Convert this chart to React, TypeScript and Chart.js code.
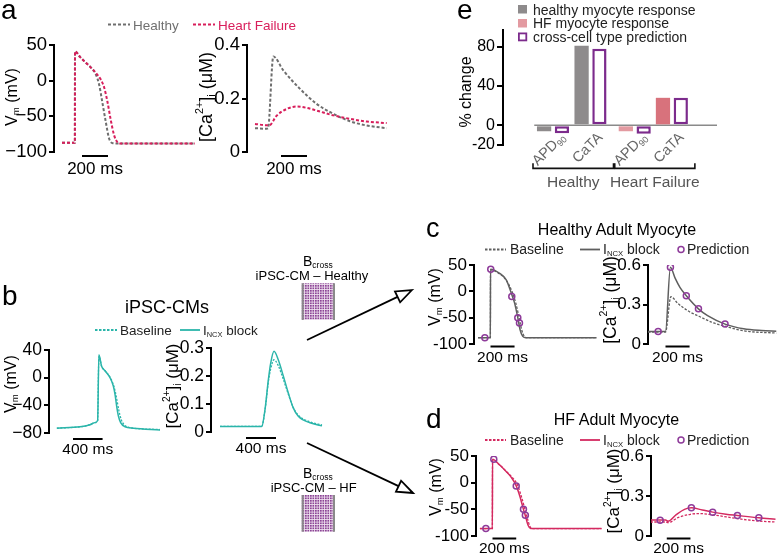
import React, { useEffect, useRef } from 'react';
import { Chart, registerables } from 'chart.js';
Chart.register(...registerables);

const FONT = '"Liberation Sans", Arial, Helvetica, sans-serif';

// ---------------- Panel a : healthy vs heart failure ----------------
const aVmHealthyT = [-100, -1, 0, 40, 90, 130, 160, 185, 210, 237, 262, 288, 310, 923];
const aVmHealthyV = [-87, -87, 41, 33, 24, 17, 9, -5, -30, -58, -81, -87.5, -88, -88];
const aVmHFT = [-100, -1, 0, 40, 90, 130, 165, 200, 225, 250, 275, 300, 325, 345, 923];
const aVmHFV = [-87, -87, 41, 33, 24, 17, 10, 1, -10, -30, -55, -76, -86, -88, -88];
const aCaHealthyT = [-100, -10, 0, 41, 118, 246, 374, 502, 631, 759, 913];
const aCaHealthyV = [0.089, 0.087, 0.088, 0.357, 0.305, 0.236, 0.18, 0.143, 0.115, 0.099, 0.089];
const aCaHFT = [-100, -10, 10, 67, 144, 221, 297, 374, 502, 631, 759, 913];
const aCaHFV = [0.105, 0.1, 0.1, 0.136, 0.161, 0.17, 0.165, 0.155, 0.137, 0.124, 0.114, 0.108];
const aVmTicks = [-100, -50, 0, 50];
const aVmTickLabels = ['\u2212100', '\u221250', '0', '50'];
const aCaTicks = [0, 0.2, 0.4];
const aCaTickLabels = ['0', '0.2', '0.4'];

// ---------------- Panel b : iPSC-CMs ----------------
const bVmBlockT = [-556, -243, -108, -41, -5, 12, 50, 95, 162, 207, 230, 252, 275, 306, 365, 477, 838];
const bVmBlockV = [-73, -71, -68, -65, -62, 33, 16, 10, 0, -12, -24, -41, -55, -65, -71, -73, -75.5];
const bVmBaseT = [-556, -243, -108, -41, -5, 12, 50, 95, 162, 207, 235, 260, 285, 315, 345, 390, 477, 838];
const bVmBaseV = [-73, -71, -68, -65, -62, 31, 16, 10, 1, -10, -21, -35, -49, -61, -67, -71, -73, -75];
const bCaT = [-556, 0, 44, 89, 120, 164, 221, 288, 355, 421, 488, 644, 804];
const bCaBlockV = [0.02, 0.02, 0.08, 0.187, 0.246, 0.288, 0.258, 0.2, 0.139, 0.086, 0.056, 0.033, 0.022];
const bCaBaseV = [0.02, 0.02, 0.078, 0.18, 0.225, 0.258, 0.237, 0.188, 0.135, 0.087, 0.06, 0.036, 0.025];
const bVmTicks = [-80, -40, 0, 40];
const bVmTickLabels = ['\u221280', '\u221240', '0', '40'];
const bCaTicks = [0, 0.1, 0.2, 0.3];
const bCaTickLabels = ['0', '0.1', '0.2', '0.3'];

// ---------------- Panel c : healthy adult myocyte ----------------
const cVmBlockT = [-104, -1, 0, 76, 131, 172, 200, 227, 246, 268, 295, 882];
const cVmBlockV = [-88, -88, 42, 34, 21.7, -3, -22, -50, -73, -85.5, -88, -88];
const cVmBaseT = [-104, -1, 0, 76, 131, 180, 210, 238, 258, 280, 305, 882];
const cVmBaseV = [-88, -88, 41, 33, 21, -1, -22, -50, -72, -85, -88, -88];
const cCaBlockT = [-145, 0, 41, 80, 120, 173, 274, 350, 495, 650, 800, 923];
const cCaBlockV = [0.095, 0.095, 0.583, 0.5, 0.43, 0.366, 0.267, 0.215, 0.151, 0.115, 0.102, 0.097];
const cCaBaseT = [-145, 0, 45, 100, 200, 282, 400, 501, 650, 923];
const cCaBaseV = [0.09, 0.09, 0.36, 0.31, 0.245, 0.209, 0.16, 0.133, 0.1, 0.083];
const cPredVmT = [-47, 2, 177, 227, 241];
const cPredVmV = [-88, 42, -10, -50, -60];
const cPredCaT = [-61, 41, 173, 274, 495];
const cPredCaV = [0.095, 0.583, 0.366, 0.267, 0.151];

// ---------------- Panel d : HF adult myocyte ----------------
const dVmBlockT = [-106, -1, 0, 61, 117, 158, 200, 230, 261, 277, 300, 320, 919];
const dVmBlockV = [-86, -86, 44, 33, 20.5, 10, -6, -25, -50, -62, -80, -86, -86];
const dVmBaseT = [-106, -1, 0, 61, 117, 165, 210, 245, 276, 292, 315, 335, 919];
const dVmBaseV = [-86, -86, 43, 33, 21, 10, -4, -27, -52, -65, -82, -86, -86];
const dCaBlockT = [-139, -10, 10, 80, 150, 208, 300, 388, 500, 597, 778, 919];
const dCaBlockV = [0.12, 0.12, 0.11, 0.16, 0.2, 0.211, 0.195, 0.179, 0.164, 0.154, 0.136, 0.125];
const dCaBaseT = [-139, -10, 10, 100, 200, 280, 400, 600, 778, 919];
const dCaBaseV = [0.105, 0.105, 0.1, 0.14, 0.163, 0.168, 0.157, 0.13, 0.112, 0.105];
const dPredVmT = [-56, 11, 200, 261, 277];
const dPredVmV = [-86, 44, -6.4, -50, -61];
const dPredCaT = [-56, 208, 388, 597, 778];
const dPredCaV = [0.118, 0.211, 0.178, 0.154, 0.136];

const cdVmTicks = [-100, -50, 0, 50];
const cdVmTickLabels = ['-100', '-50', '0', '50'];
const cdCaTicks = [0, 0.3, 0.6];
const cdCaTickLabels = ['0', '0.3', '0.6'];

// ---------------- Panel e : % change bars ----------------
const eCategories = ['APD90', 'CaTA', 'APD90', 'CaTA'];
const eGroups = ['Healthy', 'Heart Failure'];
const eResponse = [-6, 81, -6, 28];
const ePrediction = [-8, 78, -8.5, 28];
const eTicks = [-20, 0, 40, 80];
const eTickLabels = ['-20', '0', '40', '80'];

// ---------------- colours ----------------
const GRAY_A = '#6e6e6e';
const RED_A = '#d81e5b';
const TEAL = '#2bb5aa';
const GRAY_C = '#5f5f5f';
const RED_D = '#d42a60';
const PURPLE = '#8e3b9a';
const BAR_GRAY = '#8e8b8c';
const BAR_PINK_LIGHT = '#e39aa1';
const BAR_PINK = '#d8727c';
const BAR_PURPLE = '#7c2b8c';

const pts = (t: number[], v: number[]) => t.map((x, i) => ({ x, y: v[i] }));

type Series = { t: number[]; v: number[]; color: string; dash?: number[]; width?: number; points?: boolean };
type LineSpec = {
  axisX: number; top: number; bottom: number; right: number; t0Px: number; pxPerMs: number;
  yMin: number; yMax: number; yTicks: number[]; yLabels: string[]; tickFont: number;
  bar: { t0: number; t1: number; label: string; off: number; textOff: number; font: number };
  series: Series[];
};

const W = 64, PT = 14, PB = 30, PR = 4;

const specs: LineSpec[] = [
  {
    axisX: 54, top: 44.5, bottom: 151, right: 196, t0Px: 75, pxPerMs: 0.13,
    yMin: -100, yMax: 50, yTicks: aVmTicks, yLabels: aVmTickLabels, tickFont: 18.5,
    bar: { t0: 54, t1: 254, label: '200 ms', off: 4, textOff: 17, font: 17 },
    series: [
      { t: aVmHFT, v: aVmHFV, color: RED_A, dash: [3, 2], width: 2 },
      { t: aVmHealthyT, v: aVmHealthyV, color: GRAY_A, dash: [3, 2], width: 2 },
    ],
  },
  {
    axisX: 247, top: 44.5, bottom: 151.5, right: 388, t0Px: 268, pxPerMs: 0.13,
    yMin: 0, yMax: 0.4, yTicks: aCaTicks, yLabels: aCaTickLabels, tickFont: 18.5,
    bar: { t0: 100, t1: 300, label: '200 ms', off: 4, textOff: 17, font: 17 },
    series: [
      { t: aCaHFT, v: aCaHFV, color: RED_A, dash: [3, 2], width: 2 },
      { t: aCaHealthyT, v: aCaHealthyV, color: GRAY_A, dash: [3, 2], width: 2 },
    ],
  },
  {
    axisX: 49, top: 349.5, bottom: 432, right: 161, t0Px: 98, pxPerMs: 0.074,
    yMin: -80, yMax: 40, yTicks: bVmTicks, yLabels: bVmTickLabels, tickFont: 17.5,
    bar: { t0: -338, t1: 62, label: '400 ms', off: 6, textOff: 17, font: 15.5 },
    series: [
      { t: bVmBlockT, v: bVmBlockV, color: TEAL, width: 1.5 },
      { t: bVmBaseT, v: bVmBaseV, color: TEAL, dash: [2, 1.5], width: 1.3 },
    ],
  },
  {
    axisX: 211, top: 348.3, bottom: 432.3, right: 323, t0Px: 261.7, pxPerMs: 0.075,
    yMin: 0, yMax: 0.3, yTicks: bCaTicks, yLabels: bCaTickLabels, tickFont: 17.5,
    bar: { t0: -209, t1: 191, label: '400 ms', off: 6, textOff: 17, font: 15.5 },
    series: [
      { t: bCaT, v: bCaBlockV, color: TEAL, width: 1.5 },
      { t: bCaT, v: bCaBaseV, color: TEAL, dash: [2, 1.5], width: 1.3 },
    ],
  },
  {
    axisX: 474, top: 265, bottom: 344.3, right: 599, t0Px: 490.7, pxPerMs: 0.1217,
    yMin: -100, yMax: 50, yTicks: cdVmTicks, yLabels: cdVmTickLabels, tickFont: 17,
    bar: { t0: 0, t1: 200, label: '200 ms', off: 2.5, textOff: 14, font: 15.5 },
    series: [
      { t: cPredVmT, v: cPredVmV, color: PURPLE, points: true },
      { t: cVmBlockT, v: cVmBlockV, color: GRAY_C, width: 1.5 },
      { t: cVmBaseT, v: cVmBaseV, color: GRAY_C, dash: [2.5, 1.5], width: 1.3 },
    ],
  },
  {
    axisX: 648, top: 265, bottom: 344.3, right: 778, t0Px: 665.7, pxPerMs: 0.1217,
    yMin: 0, yMax: 0.6, yTicks: cdCaTicks, yLabels: cdCaTickLabels, tickFont: 17,
    bar: { t0: 0, t1: 200, label: '200 ms', off: 2.5, textOff: 14, font: 15.5 },
    series: [
      { t: cPredCaT, v: cPredCaV, color: PURPLE, points: true },
      { t: cCaBlockT, v: cCaBlockV, color: GRAY_C, width: 1.5 },
      { t: cCaBaseT, v: cCaBaseV, color: GRAY_C, dash: [2.5, 1.5], width: 1.3 },
    ],
  },
  {
    axisX: 476, top: 456, bottom: 535.7, right: 604, t0Px: 492.7, pxPerMs: 0.12,
    yMin: -100, yMax: 50, yTicks: cdVmTicks, yLabels: cdVmTickLabels, tickFont: 17,
    bar: { t0: 0, t1: 200, label: '200 ms', off: 2.5, textOff: 12.5, font: 15.5 },
    series: [
      { t: dPredVmT, v: dPredVmV, color: PURPLE, points: true },
      { t: dVmBlockT, v: dVmBlockV, color: RED_D, width: 1.5 },
      { t: dVmBaseT, v: dVmBaseV, color: RED_D, dash: [2.5, 1.5], width: 1.3 },
    ],
  },
  {
    axisX: 650.7, top: 456, bottom: 535.7, right: 778, t0Px: 666.7, pxPerMs: 0.12,
    yMin: 0, yMax: 0.6, yTicks: cdCaTicks, yLabels: cdCaTickLabels, tickFont: 17,
    bar: { t0: 0, t1: 200, label: '200 ms', off: 2.5, textOff: 12.5, font: 15.5 },
    series: [
      { t: dPredCaT, v: dPredCaV, color: PURPLE, points: true },
      { t: dCaBlockT, v: dCaBlockV, color: RED_D, width: 1.5 },
      { t: dCaBaseT, v: dCaBaseV, color: RED_D, dash: [2.5, 1.5], width: 1.3 },
    ],
  },
];

function LineBox({ spec }: { spec: LineSpec }) {
  const ref = useRef<HTMLCanvasElement>(null);
  const width = Math.round(W + (spec.right - spec.axisX) + PR);
  const height = Math.round(PT + (spec.bottom - spec.top) + PB);
  useEffect(() => {
    const s = spec;
    const xMin = (s.axisX - s.t0Px) / s.pxPerMs;
    const xMax = (s.right - s.t0Px) / s.pxPerMs;
    const barPlugin = {
      id: 'scaleBar',
      afterDraw(chart: any) {
        const { ctx, scales, chartArea } = chart;
        const x0 = scales.x.getPixelForValue(s.bar.t0);
        const x1 = scales.x.getPixelForValue(s.bar.t1);
        const y = chartArea.bottom + s.bar.off;
        ctx.save();
        ctx.strokeStyle = '#000';
        ctx.lineWidth = 2;
        ctx.beginPath();
        ctx.moveTo(x0, y);
        ctx.lineTo(x1, y);
        ctx.stroke();
        ctx.fillStyle = '#000';
        ctx.font = `${s.bar.font}px ${FONT}`;
        ctx.textAlign = 'center';
        ctx.textBaseline = 'middle';
        ctx.fillText(s.bar.label, (x0 + x1) / 2, chartArea.bottom + s.bar.textOff);
        ctx.restore();
      },
    };
    const datasets = s.series.map((sr) =>
      sr.points
        ? {
            data: pts(sr.t, sr.v),
            showLine: false,
            pointRadius: 3,
            pointBorderWidth: 1.5,
            pointBorderColor: sr.color,
            pointBackgroundColor: 'rgba(255,255,255,0)',
            borderColor: sr.color,
          }
        : {
            data: pts(sr.t, sr.v),
            borderColor: sr.color,
            borderWidth: sr.width ?? 1.5,
            borderDash: sr.dash ?? [],
            pointRadius: 0,
            fill: false,
            cubicInterpolationMode: 'monotone',
          }
    );
    const chart = new Chart(ref.current as HTMLCanvasElement, {
      type: 'line',
      data: { datasets: datasets as any },
      options: {
        responsive: false,
        maintainAspectRatio: false,
        animation: false,
        devicePixelRatio: 1,
        layout: { padding: { left: 0, top: PT, right: PR, bottom: PB } },
        plugins: { legend: { display: false }, tooltip: { enabled: false } },
        scales: {
          x: { type: 'linear', min: xMin, max: xMax, display: false },
          y: {
            type: 'linear',
            min: s.yMin,
            max: s.yMax,
            afterFit: (sc: any) => { sc.width = W; },
            afterBuildTicks: (sc: any) => { sc.ticks = s.yTicks.map((v) => ({ value: v })); },
            ticks: {
              callback: (v: any) => s.yLabels[s.yTicks.indexOf(v)] ?? '',
              font: { family: FONT, size: s.tickFont },
              color: '#000',
              padding: 2,
            },
            grid: { drawOnChartArea: false, drawTicks: true, tickLength: 5, color: '#000', lineWidth: 2 },
            border: { display: true, color: '#000', width: 2 },
          },
        },
      } as any,
      plugins: [barPlugin],
    });
    return () => chart.destroy();
  }, [spec]);
  return (
    <canvas
      ref={ref}
      width={width}
      height={height}
      style={{ position: 'absolute', left: spec.axisX - W, top: spec.top - PT, width, height }}
    />
  );
}

// ---- bar chart (panel e) ----
const E = { axisX: 503, top: 30, bottom: 145, right: 717, firstPx: 534, pxPerUnit: 50 };
const ePositions = [0, 1, 2.18, 3.17];
const EW = 50, EPT = 12, EPB = 48, EPR = 4;

function BarBox() {
  const ref = useRef<HTMLCanvasElement>(null);
  const width = Math.round(EW + (E.right - E.axisX) + EPR);
  const height = Math.round(EPT + (E.bottom - E.top) + EPB);
  useEffect(() => {
    const xMin = (E.axisX - E.firstPx) / E.pxPerUnit;
    const xMax = (E.right - E.firstPx) / E.pxPerUnit;
    const deco = {
      id: 'eDeco',
      beforeDatasetsDraw(chart: any) {
        const { ctx, scales, chartArea } = chart;
        const y0 = scales.y.getPixelForValue(0);
        ctx.save();
        ctx.strokeStyle = '#8a8a8a';
        ctx.lineWidth = 1.5;
        ctx.beginPath();
        ctx.moveTo(scales.x.getPixelForValue(-0.5), y0);
        ctx.lineTo(chartArea.right, y0);
        ctx.stroke();
        ctx.restore();
      },
      afterDraw(chart: any) {
        const { ctx, scales } = chart;
        const x = scales.x;
        const y0 = scales.y.getPixelForValue(0);
        ctx.save();
        ePositions.forEach((p, i) => {
          const m = eCategories[i].match(/^(\D+)(\d*)$/) as RegExpMatchArray;
          const main = m[1];
          const sub = m[2];
          ctx.save();
          ctx.translate(x.getPixelForValue(p) + 10, y0 + 10);
          ctx.rotate(-Math.PI / 4);
          ctx.fillStyle = '#666';
          ctx.textBaseline = 'middle';
          ctx.textAlign = 'left';
          ctx.font = `9px ${FONT}`;
          const w2 = sub ? ctx.measureText(sub).width : 0;
          ctx.font = `14.5px ${FONT}`;
          const w1 = ctx.measureText(main).width;
          ctx.fillText(main, -(w1 + w2), 0);
          if (sub) {
            ctx.font = `9px ${FONT}`;
            ctx.fillText(sub, -w2, 4);
          }
          ctx.restore();
        });
        // group brackets
        const groups = [[ePositions[0], ePositions[1]], [ePositions[2], ePositions[3]]];
        groups.forEach((g, gi) => {
          const xa = x.getPixelForValue(g[0]) - 20;
          const xb = x.getPixelForValue(g[1]) + 23;
          const yb = y0 + 43;
          ctx.strokeStyle = '#111';
          ctx.lineWidth = 1.6;
          ctx.beginPath();
          ctx.moveTo(xa, yb - 5);
          ctx.lineTo(xa, yb);
          ctx.lineTo(xb, yb);
          ctx.lineTo(xb, yb - 5);
          ctx.stroke();
          ctx.fillStyle = '#555';
          ctx.font = `15.5px ${FONT}`;
          ctx.textAlign = 'center';
          ctx.textBaseline = 'middle';
          ctx.fillText(eGroups[gi], (xa + xb) / 2, y0 + 57);
        });
        ctx.restore();
      },
    };
    const chart = new Chart(ref.current as HTMLCanvasElement, {
      type: 'bar',
      data: {
        datasets: [
          {
            label: 'response',
            data: ePositions.map((p, i) => ({ x: p, y: eResponse[i] })),
            backgroundColor: [BAR_GRAY, BAR_GRAY, BAR_PINK_LIGHT, BAR_PINK],
            borderWidth: 0,
            categoryPercentage: 0.96,
            barPercentage: 0.8,
          },
          {
            label: 'prediction',
            data: ePositions.map((p, i) => ({ x: p, y: ePrediction[i] })),
            backgroundColor: '#ffffff',
            borderColor: BAR_PURPLE,
            borderWidth: 2.5,
            borderSkipped: false,
            categoryPercentage: 0.96,
            barPercentage: 0.8,
          },
        ] as any,
      },
      options: {
        responsive: false,
        maintainAspectRatio: false,
        animation: false,
        devicePixelRatio: 1,
        layout: { padding: { left: 0, top: EPT, right: EPR, bottom: EPB } },
        plugins: { legend: { display: false }, tooltip: { enabled: false } },
        scales: {
          x: {
            type: 'linear', min: xMin, max: xMax, display: false,
            afterBuildTicks: (sc: any) => { sc.ticks = ePositions.map((v) => ({ value: v })); },
          },
          y: {
            type: 'linear', min: -20, max: 97,
            afterFit: (sc: any) => { sc.width = EW; },
            afterBuildTicks: (sc: any) => { sc.ticks = eTicks.map((v) => ({ value: v })); },
            ticks: {
              callback: (v: any) => eTickLabels[eTicks.indexOf(v)] ?? '',
              font: { family: FONT, size: 16 },
              color: '#000',
              padding: 2,
            },
            grid: { drawOnChartArea: false, drawTicks: true, tickLength: 6, color: '#000', lineWidth: 2 },
            border: { display: true, color: '#000', width: 2 },
          },
        },
      } as any,
      plugins: [deco],
    });
    return () => chart.destroy();
  }, []);
  return (
    <canvas
      ref={ref}
      width={width}
      height={height}
      style={{ position: 'absolute', left: E.axisX - EW, top: E.top - EPT, width, height }}
    />
  );
}

// ---- overlay (text, legends, arrows, matrices) ----
const NB = '\u00a0';

function VmTitle({ x, y, size }: { x: number; y: number; size: number }) {
  return (
    <text x={x} y={y} fontSize={size} textAnchor="middle" dominantBaseline="central" transform={`rotate(-90 ${x} ${y})`}>
      V<tspan fontSize={size * 0.6} dy={size * 0.28}>m</tspan>
      <tspan dy={-size * 0.28}>{NB + '(mV)'}</tspan>
    </text>
  );
}
function CaTitle({ x, y, size }: { x: number; y: number; size: number }) {
  return (
    <text x={x} y={y} fontSize={size} textAnchor="middle" dominantBaseline="central" transform={`rotate(-90 ${x} ${y})`}>
      [Ca<tspan fontSize={size * 0.6} dy={-size * 0.38}>2+</tspan>
      <tspan dy={size * 0.38}>]</tspan>
      <tspan fontSize={size * 0.6} dy={size * 0.28}>i</tspan>
      <tspan dy={-size * 0.28}>{NB + '(\u03bcM)'}</tspan>
    </text>
  );
}
function Incx({ x, y, size }: { x: number; y: number; size: number }) {
  return (
    <text x={x} y={y} fontSize={size} fill="#222">
      I<tspan fontSize={size * 0.55} dy={2}>NCX</tspan>
      <tspan dy={-2}>{NB + 'block'}</tspan>
    </text>
  );
}
function Arrow({ x1, y1, x2, y2 }: { x1: number; y1: number; x2: number; y2: number }) {
  const dx = x2 - x1, dy = y2 - y1;
  const L = Math.hypot(dx, dy);
  const ux = dx / L, uy = dy / L;
  const bx = x2 - 16 * ux, by = y2 - 16 * uy;
  const px = -uy, py = ux;
  const p = `${x2},${y2} ${bx + 6 * px},${by + 6 * py} ${bx - 6 * px},${by - 6 * py}`;
  return (
    <g>
      <line x1={x1} y1={y1} x2={bx} y2={by} stroke="#000" strokeWidth={1.8} />
      <polygon points={p} fill="#fff" stroke="#000" strokeWidth={1.8} strokeLinejoin="miter" />
    </g>
  );
}
function Matrix({ x, y }: { x: number; y: number }) {
  return (
    <g>
      <rect x={x} y={y} width={33.3} height={36.7} fill="url(#bgrid)" />
      <rect x={x} y={y} width={2} height={36.7} fill="#8a8a8a" />
      <rect x={x + 31.3} y={y} width={2} height={36.7} fill="#8a8a8a" />
    </g>
  );
}
function LegendLine({ x1, x2, y, color, dash }: { x1: number; x2: number; y: number; color: string; dash?: string }) {
  return <line x1={x1} x2={x2} y1={y} y2={y} stroke={color} strokeWidth={1.8} strokeDasharray={dash} />;
}

function Overlay() {
  return (
    <svg width={780} height={556} style={{ position: 'absolute', left: 0, top: 0, pointerEvents: 'none' }} fontFamily={FONT}>
      <defs>
        <pattern id="bgrid" width={2.5} height={2.5} patternUnits="userSpaceOnUse">
          <rect width={2.5} height={2.5} fill="#efe2ef" />
          <rect width={1.7} height={1.7} fill="#8c4596" />
        </pattern>
      </defs>
      {/* panel letters */}
      <text x={1} y={18.5} fontSize={28}>a</text>
      <text x={457} y={18.5} fontSize={28}>e</text>
      <text x={2} y={305} fontSize={28}>b</text>
      <text x={426} y={237} fontSize={27}>c</text>
      <text x={426} y={428} fontSize={28}>d</text>

      {/* panel a */}
      <LegendLine x1={108} x2={130} y={24.5} color={GRAY_A} dash="3 2" />
      <text x={133} y={29.5} fontSize={13.5} fill="#707070">Healthy</text>
      <LegendLine x1={193} x2={215} y={24.5} color={RED_A} dash="3 2" />
      <text x={218} y={29.5} fontSize={13.5} fill={RED_A}>Heart Failure</text>
      <VmTitle x={11} y={97} size={16} />
      <CaTitle x={206} y={97} size={18} />

      {/* panel e legend */}
      <rect x={518} y={5} width={9} height={8.5} fill={BAR_GRAY} />
      <text x={533} y={14.5} fontSize={14} fill="#222">healthy myocyte response</text>
      <rect x={518} y={19} width={9} height={8.5} fill={BAR_PINK_LIGHT} />
      <text x={533} y={28.3} fontSize={14} fill="#222">HF myocyte response</text>
      <rect x={518.9} y={33.4} width={7.4} height={7} fill="#fff" stroke={BAR_PURPLE} strokeWidth={1.8} />
      <text x={533} y={41.7} fontSize={14} fill="#222">cross-cell type prediction</text>
      <text x={465} y={92} fontSize={16} textAnchor="middle" dominantBaseline="central" transform="rotate(-90 465 92)">% change</text>

      {/* panel b */}
      <text x={167} y={312.7} fontSize={18} textAnchor="middle">iPSC-CMs</text>
      <LegendLine x1={95} x2={117} y={330} color={TEAL} dash="2.5 1.5" />
      <text x={120} y={335} fontSize={13.5} fill="#222">Baseline</text>
      <LegendLine x1={180} x2={200} y={330} color={TEAL} />
      <Incx x={203} y={335} size={13.5} />
      <VmTitle x={10} y={384} size={16} />
      <CaTitle x={172} y={386} size={17} />

      {/* B cross matrices and arrows */}
      <text x={303} y={266} fontSize={14}>B<tspan fontSize={8.5} dy={2}>cross</tspan></text>
      <text x={368.3} y={280} fontSize={13} textAnchor="end">iPSC-CM – Healthy</text>
      <Matrix x={301.7} y={283.3} />
      <text x={303} y={478} fontSize={14}>B<tspan fontSize={8.5} dy={2}>cross</tspan></text>
      <text x={356.7} y={492} fontSize={13} textAnchor="end">iPSC-CM – HF</text>
      <Matrix x={301.7} y={495} />
      <Arrow x1={307} y1={340} x2={412} y2={290} />
      <Arrow x1={307} y1={443} x2={413} y2={493} />

      {/* panel c */}
      <text x={617} y={235} fontSize={16} textAnchor="middle">Healthy Adult Myocyte</text>
      <LegendLine x1={485} x2={506} y={249.5} color={GRAY_C} dash="2.5 1.5" />
      <text x={510} y={254} fontSize={14} fill="#222">Baseline</text>
      <LegendLine x1={580} x2={600} y={249.5} color={GRAY_C} />
      <Incx x={603} y={254} size={14} />
      <circle cx={681} cy={249.5} r={3} fill="none" stroke={PURPLE} strokeWidth={1.5} />
      <text x={687} y={254} fontSize={14} fill="#222">Prediction</text>
      <VmTitle x={434} y={297} size={16} />
      <CaTitle x={610} y={300} size={17.5} />

      {/* panel d */}
      <text x={616.5} y={425} fontSize={16} textAnchor="middle">HF Adult Myocyte</text>
      <LegendLine x1={485} x2={506} y={440} color={RED_D} dash="2.5 1.5" />
      <text x={510} y={445} fontSize={14} fill="#222">Baseline</text>
      <LegendLine x1={580} x2={600} y={440} color={RED_D} />
      <Incx x={603} y={445} size={14} />
      <circle cx={681} cy={440} r={3} fill="none" stroke={PURPLE} strokeWidth={1.5} />
      <text x={687} y={445} fontSize={14} fill="#222">Prediction</text>
      <VmTitle x={435} y={487} size={16} />
      <CaTitle x={613} y={491} size={17} />
    </svg>
  );
}

export default function App() {
  return (
    <div style={{ position: 'absolute', left: 0, top: 0, width: 780, height: 556, background: '#fff', overflow: 'hidden', fontFamily: FONT }}>
      {specs.map((s, i) => (
        <LineBox key={i} spec={s} />
      ))}
      <BarBox />
      <Overlay />
    </div>
  );
}
